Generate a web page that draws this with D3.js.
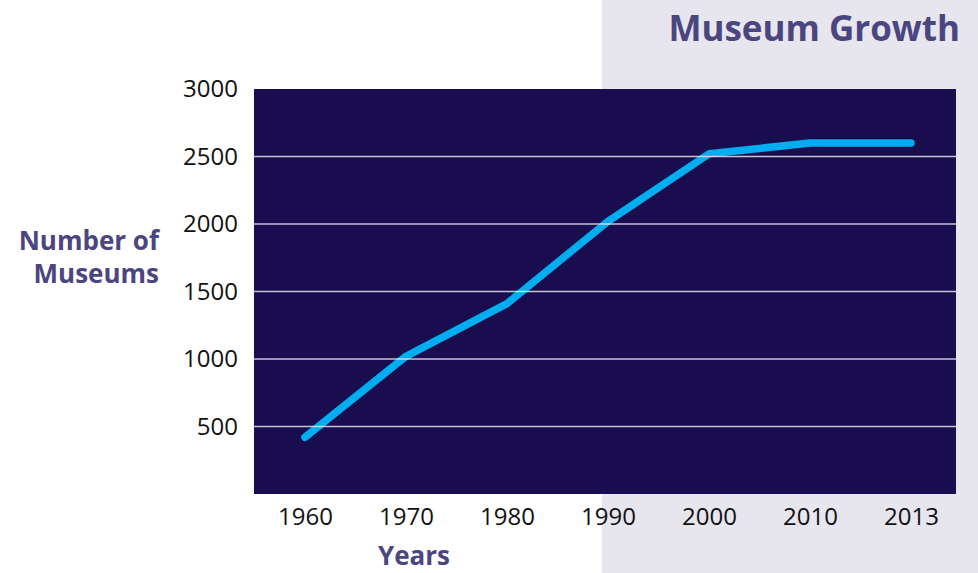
<!DOCTYPE html>
<html>
<head>
<meta charset="utf-8">
<script src="https://cdn.jsdelivr.net/npm/d3@7"></script>
<style>
  body { margin: 0; background: #ffffff; }
  text { font-family: "Open Sans", sans-serif; }
</style>
</head>
<body>
<script>
    // Data
    var years = ["1960", "1970", "1980", "1990", "2000", "2010", "2013"];
    var museums = [420, 1020, 1410, 2020, 2520, 2600, 2600];
    var yTicks = [500, 1000, 1500, 2000, 2500, 3000];

    function init() {
        var w = 978;
        var h = 573;

        var svg = d3.select("body")
                    .append("svg")
                    .attr("width", w)
                    .attr("height", h);

        // grey panel on the right
        svg.append("rect")
            .attr("x", 602)
            .attr("y", 0)
            .attr("width", w - 602)
            .attr("height", h)
            .attr("fill", "#e7e6ee");

        // plot box
        var left = 254, right = 956, top = 89, bottom = 494;

        var xScale = d3.scalePoint()
                    .domain(years)
                    .range([305, 911]);

        var yScale = d3.scaleLinear()
                    .domain([0, 3000])
                    .range([bottom, top]);

        svg.append("rect")
            .attr("x", left)
            .attr("y", top)
            .attr("width", right - left)
            .attr("height", bottom - top)
            .attr("fill", "#190d4f");

        // the line
        var line = d3.line()
                    .x(function(d, i) { return xScale(years[i]); })
                    .y(function(d) { return yScale(d); });

        svg.append("path")
            .datum(museums)
            .attr("d", line)
            .attr("fill", "none")
            .attr("stroke", "#00aeef")
            .attr("stroke-width", 7.5)
            .attr("stroke-linecap", "round")
            .attr("stroke-linejoin", "round");

        // gridlines (drawn on top of line)
        svg.selectAll(".grid")
            .data(yTicks.filter(function(d) { return d < 3000; }))
            .enter()
            .append("line")
            .attr("x1", left)
            .attr("x2", right)
            .attr("y1", function(d) { return yScale(d); })
            .attr("y2", function(d) { return yScale(d); })
            .attr("stroke", "#e6e3f0")
            .attr("stroke-opacity", 0.85)
            .attr("stroke-width", 1.5);

        // y axis
        var yAxis = d3.axisLeft(yScale)
                    .tickValues(yTicks)
                    .tickFormat(d3.format("d"))
                    .tickSize(0)
                    .tickPadding(16);

        var gy = svg.append("g")
            .attr("transform", "translate(" + left + ",0)")
            .call(yAxis);
        gy.select(".domain").remove();
        gy.selectAll("text")
            .attr("font-family", "Open Sans, sans-serif")
            .attr("font-size", 24)
            .attr("fill", "#111");

        // x axis
        var xAxis = d3.axisBottom(xScale)
                    .tickSize(0)
                    .tickPadding(14);

        var gx = svg.append("g")
            .attr("transform", "translate(0," + bottom + ")")
            .call(xAxis);
        gx.select(".domain").remove();
        gx.selectAll("text")
            .attr("font-family", "Open Sans, sans-serif")
            .attr("font-size", 24)
            .attr("fill", "#111");

        // titles
        svg.append("text")
            .attr("x", 960)
            .attr("y", 41)
            .attr("text-anchor", "end")
            .attr("font-size", 35)
            .attr("font-weight", "bold")
            .attr("fill", "#4b4580")
            .text("Museum Growth");

        svg.append("text")
            .attr("x", 159)
            .attr("y", 250)
            .attr("text-anchor", "end")
            .attr("font-size", 26)
            .attr("font-weight", "bold")
            .attr("fill", "#4b4580")
            .text("Number of");

        svg.append("text")
            .attr("x", 159)
            .attr("y", 283)
            .attr("text-anchor", "end")
            .attr("font-size", 26)
            .attr("font-weight", "bold")
            .attr("fill", "#4b4580")
            .text("Museums");

        svg.append("text")
            .attr("x", 414)
            .attr("y", 565)
            .attr("text-anchor", "middle")
            .attr("font-size", 26)
            .attr("font-weight", "bold")
            .attr("fill", "#4b4580")
            .text("Years");
    }

    window.onload = init;
</script>
</body>
</html>
